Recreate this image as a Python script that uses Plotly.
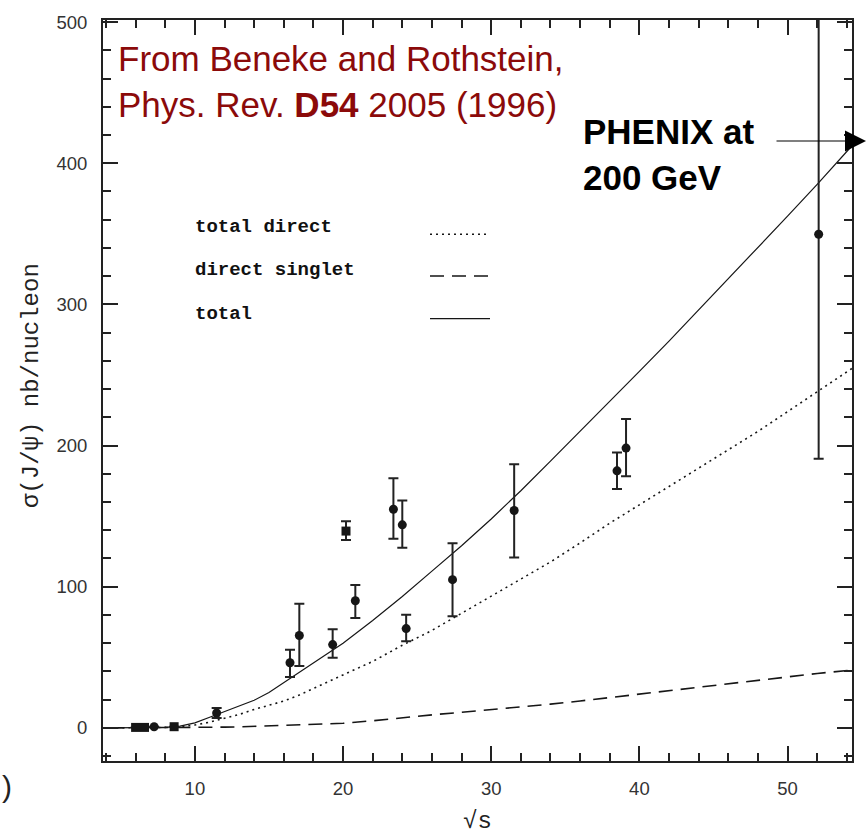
import plotly.graph_objects as go

# Measured J/psi cross sections versus sqrt(s)
sqrt_s_data = [6.0, 6.6, 7.25, 8.6, 11.47, 16.42, 17.05, 19.3, 20.2, 20.83,
               23.4, 24.0, 24.26, 27.39, 31.55, 38.49, 39.1, 52.1]
sigma_data = [0.3, 0.3, 0.8, 0.8, 10.5, 46.1, 65.4, 59.0, 139.4, 90.0,
              154.9, 143.8, 70.3, 105.0, 154.0, 182.1, 198.2, 349.7]
err_up = [0, 0, 0, 0, 3.5, 9.2, 22.5, 10.8, 7.0, 11.2,
          22.0, 17.2, 9.8, 25.8, 32.7, 12.9, 20.6, 160.0]
err_down = [0, 0, 0, 0, 3.5, 10.1, 21.6, 9.4, 6.3, 12.2,
            20.9, 16.3, 8.9, 26.0, 33.4, 12.9, 19.9, 159.0]
marker_symbols = ["square", "square", "circle", "square", "circle", "circle",
                  "circle", "circle", "square", "circle", "circle", "circle",
                  "circle", "circle", "circle", "circle", "circle", "circle"]

# Theory curves (NRQCD predictions)
sqrt_s_curve = [4.3, 6, 8, 9, 10, 11, 12, 13, 14, 15, 16, 17, 18, 19, 20,
                22, 24, 26, 28, 30, 32, 34, 36, 38, 40, 42, 44, 46, 48, 50,
                52, 54.4]
total = [0, 0, 0.3, 1.2, 3.5, 7.5, 11.5, 15.5, 19.5, 25, 32, 39, 46, 53, 60,
         76, 93, 111, 129, 148, 168, 189, 210, 231, 252.5, 274, 296, 318, 340, 362.5,
         385, 413]
total_direct = [0, 0, 0.3, 0.8, 2, 4, 6.5, 9.5, 13, 16, 19, 23, 28, 32.5, 37.5,
                47, 58.5, 69, 81, 93, 105, 117.5, 131, 145, 158, 171, 184, 197, 210, 224,
                238, 255]
direct_singlet = [0, 0, 0, 0.1, 0.3, 0.4, 0.5, 0.7, 1, 1.2, 1.5, 1.8, 2.2, 2.7, 3.2,
                  5, 7.2, 9.2, 11, 12.8, 14.7, 16.8, 19, 21.5, 24, 26.5, 28.7, 31, 33.5, 36.2,
                  38.5, 41]

legend_labels = ["total direct", "direct singlet", "total"]
legend_dashes = ["2px,4px", "14px,8px", "solid"]

INK = "#161616"
W, H = 867, 837
L, R, T, B = 103, 15, 14, 76
PW, PH = W - L - R, H - T - B


def px_x(p):
    return (p - L) / PW


def px_y(p):
    return (H - B - p) / PH


fig = go.Figure()

fig.add_trace(go.Scatter(x=sqrt_s_curve, y=total_direct, mode="lines",
                         line=dict(color=INK, width=1.6, dash=legend_dashes[0]),
                         hoverinfo="skip", showlegend=False))
fig.add_trace(go.Scatter(x=sqrt_s_curve, y=direct_singlet, mode="lines",
                         line=dict(color=INK, width=1.6, dash=legend_dashes[1]),
                         hoverinfo="skip", showlegend=False))
fig.add_trace(go.Scatter(x=sqrt_s_curve, y=total, mode="lines",
                         line=dict(color=INK, width=1.2),
                         hoverinfo="skip", showlegend=False))

fig.add_trace(go.Scatter(
    x=sqrt_s_data, y=sigma_data, mode="markers",
    marker=dict(color=INK, size=9, symbol=marker_symbols),
    error_y=dict(type="data", array=err_up, arrayminus=err_down,
                 color="#222", thickness=2, width=5),
    cliponaxis=True, showlegend=False))

# Hand-drawn style legend block
legend_text_y = [223, 266.5, 310]
legend_line_y = [230, 272, 315]
for lab, dash, ty, ly in zip(legend_labels, legend_dashes, legend_text_y, legend_line_y):
    fig.add_annotation(text=lab, xref="paper", yref="paper", x=px_x(193), y=px_y(ty),
                       xanchor="left", yanchor="middle", showarrow=False,
                       font=dict(family="Liberation Mono", size=19, color="#111",
                                 weight="bold"))
    fig.add_shape(type="line", xref="paper", yref="paper",
                  x0=px_x(430), x1=px_x(490), y0=px_y(ly), y1=px_y(ly),
                  line=dict(color=INK, width=1.6 if dash != "solid" else 1.4, dash=dash))

# Reference note
fig.add_annotation(
    text="From Beneke and Rothstein,<br>Phys. Rev. <b>D54</b> 2005 (1996)",
    xref="paper", yref="paper", x=px_x(116), y=px_y(31),
    xanchor="left", yanchor="top", align="left", showarrow=False,
    font=dict(family="Liberation Sans", size=35, color="#8b0a0a"))

# PHENIX label and arrow
fig.add_annotation(
    text="<b>PHENIX at<br>200 GeV</b>",
    xref="paper", yref="paper", x=px_x(581), y=px_y(105),
    xanchor="left", yanchor="top", align="left", showarrow=False,
    font=dict(family="Liberation Sans", size=35, color="#000"))
fig.add_annotation(
    text="", xref="paper", yref="paper", x=px_x(866), y=px_y(136),
    ax=-91, ay=0, axref="pixel", ayref="pixel",
    showarrow=True, arrowhead=2, arrowsize=3.5, arrowwidth=1.2, arrowcolor="#000")

# Axis titles
fig.add_annotation(text="σ(J/ψ) nb/nucleon", xref="paper", yref="paper",
                   x=px_x(31), y=px_y(383), textangle=-90, showarrow=False,
                   xanchor="center", yanchor="middle",
                   font=dict(family="Liberation Mono", size=24, color="#222"))
fig.add_annotation(text="√s", xref="paper", yref="paper",
                   x=px_x(477), y=px_y(822), showarrow=False,
                   xanchor="center", yanchor="middle",
                   font=dict(family="Liberation Mono", size=24, color="#222"))
fig.add_annotation(text=")", xref="paper", yref="paper",
                   x=px_x(0), y=px_y(787), showarrow=False,
                   xanchor="left", yanchor="middle",
                   font=dict(family="Liberation Sans", size=30, color="#222"))

axis_common = dict(
    showline=True, linewidth=2, linecolor="#222", mirror="allticks",
    ticks="inside", ticklen=15, tickwidth=1.5, tickcolor="#222",
    showgrid=False, zeroline=False,
    tickfont=dict(family="Liberation Sans", size=18.5, color="#333"),
)

fig.update_xaxes(range=[3.8, 54.35], tick0=0, dtick=10,
                 minor=dict(dtick=2, ticks="inside", ticklen=8, tickwidth=1.5,
                            tickcolor="#222", showgrid=False),
                 ticklabelstandoff=10, **axis_common)
fig.update_yaxes(range=[-23.5, 501.5], tick0=0, dtick=100,
                 minor=dict(dtick=20, ticks="inside", ticklen=8, tickwidth=1.5,
                            tickcolor="#222", showgrid=False),
                 ticklabelstandoff=10, **axis_common)

fig.update_layout(
    width=W, height=H,
    margin=dict(l=L, r=R, t=T, b=B),
    plot_bgcolor="white", paper_bgcolor="white",
    showlegend=False,
)

fig.write_html("out.html")
